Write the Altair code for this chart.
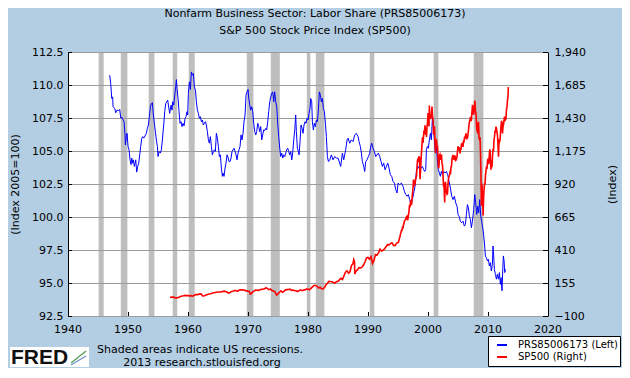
import altair as alt
import pandas as pd

# ---------------- texts ----------------
TITLE_LINES = ["Nonfarm Business Sector: Labor Share (PRS85006173)",
               "S&P 500 Stock Price Index (SP500)"]
LEFT_TITLE = "(Index 2005=100)"
RIGHT_TITLE = "(Index)"
NOTE_1 = "Shaded areas indicate US recessions."
NOTE_2 = "2013 research.stlouisfed.org"
LEGEND_BLUE = "PRS85006173 (Left)"
LEGEND_RED = "SP500 (Right)"
LOGO_TEXT = "FRED"

# ---------------- axes ----------------
x_ticks = [1940, 1950, 1960, 1970, 1980, 1990, 2000, 2010, 2020]
x_tick_labels = ["1940", "1950", "1960", "1970", "1980", "1990", "2000", "2010", "2020"]
left_ticks = [92.5, 95.0, 97.5, 100.0, 102.5, 105.0, 107.5, 110.0, 112.5]
right_ticks = [-100, 155, 410, 665, 920, 1175, 1430, 1685, 1940]

# ---------------- recessions ----------------
rec_start = [1945.1, 1948.8, 1953.45, 1957.45, 1960.12, 1969.8, 1973.8, 1979.8, 1981.3, 1990.3, 2000.95, 2007.62]
rec_end = [1945.95, 1949.9, 1954.4, 1958.2, 1961.12, 1970.9, 1975.3, 1980.4, 1982.73, 1991.06, 2001.73, 2009.23]

# ---------------- labor share (left) ----------------
ls_year = [
 1946.95, 1947.12, 1947.29, 1947.45, 1947.51, 1947.79, 1947.95, 1948.17, 1948.45, 1948.62, 1948.79,
 1949.01, 1949.17, 1949.34, 1949.51, 1949.56, 1949.73, 1949.84, 1950.01, 1950.17, 1950.34, 1950.51,
 1950.62, 1950.79, 1950.90, 1951.06, 1951.29, 1951.45, 1951.62, 1951.79, 1951.95, 1952.12, 1952.29,
 1952.45, 1952.62, 1952.84, 1953.06, 1953.23, 1953.40, 1953.56, 1953.73, 1953.90, 1954.06, 1954.23,
 1954.40, 1954.56, 1954.73, 1954.90, 1955.01, 1955.18, 1955.40, 1955.56, 1955.73, 1955.95, 1956.12,
 1956.29, 1956.45, 1956.62, 1956.73, 1956.95, 1957.18, 1957.34, 1957.45, 1957.62, 1957.79, 1957.95,
 1958.06, 1958.17, 1958.34, 1958.51, 1958.67, 1958.84, 1959.01, 1959.17, 1959.34, 1959.51, 1959.67,
 1959.84, 1959.95, 1960.06, 1960.23, 1960.40, 1960.56, 1960.73, 1960.90, 1961.06, 1961.23, 1961.40,
 1961.56, 1961.73, 1961.90, 1962.06, 1962.23, 1962.40, 1962.56, 1962.73, 1962.90, 1963.06, 1963.23,
 1963.40, 1963.56, 1963.73, 1963.90, 1964.06, 1964.23, 1964.40, 1964.56, 1964.73, 1964.90, 1965.06,
 1965.23, 1965.40, 1965.56, 1965.73, 1965.84, 1966.01, 1966.17, 1966.34, 1966.51, 1966.67, 1966.84,
 1967.01, 1967.17, 1967.34, 1967.51, 1967.67, 1967.84, 1968.01, 1968.17, 1968.34, 1968.51, 1968.67,
 1968.84, 1969.01, 1969.17, 1969.34, 1969.51, 1969.67, 1969.84, 1970.01, 1970.12, 1970.29, 1970.45,
 1970.62, 1970.79, 1970.95, 1971.12, 1971.29, 1971.45, 1971.62, 1971.79, 1971.95, 1972.12, 1972.29,
 1972.45, 1972.62, 1972.79, 1972.95, 1973.12, 1973.29, 1973.45, 1973.62, 1973.79, 1973.95, 1974.12,
 1974.29, 1974.45, 1974.62, 1974.79, 1974.95, 1975.12, 1975.29, 1975.45, 1975.62, 1975.79, 1975.95,
 1976.12, 1976.29, 1976.45, 1976.62, 1976.79, 1976.95, 1977.12, 1977.29, 1977.45, 1977.62, 1977.79,
 1977.95, 1978.06, 1978.23, 1978.40, 1978.51, 1978.67, 1978.84, 1979.01, 1979.17, 1979.34, 1979.50,
 1979.67, 1979.84, 1980.01, 1980.17, 1980.34, 1980.45, 1980.62, 1980.73, 1980.90, 1981.06, 1981.23,
 1981.40, 1981.56, 1981.73, 1981.90, 1982.06, 1982.23, 1982.40, 1982.56, 1982.73, 1982.90, 1983.06,
 1983.23, 1983.40, 1983.62, 1983.90, 1984.17, 1984.45, 1984.73, 1985.01, 1985.28, 1985.45, 1985.73,
 1985.95, 1986.28, 1986.51, 1986.68, 1986.95, 1987.23, 1987.51, 1987.79, 1988.06, 1988.34, 1988.51,
 1988.73, 1988.90, 1989.06, 1989.29, 1989.45, 1989.62, 1989.84, 1990.07, 1990.29, 1990.45, 1990.62,
 1990.84, 1991.06, 1991.29, 1991.51, 1991.73, 1991.95, 1992.18, 1992.40, 1992.62, 1992.84, 1993.07,
 1993.29, 1993.51, 1993.73, 1993.95, 1994.17, 1994.40, 1994.62, 1994.84, 1995.01, 1995.29, 1995.57,
 1995.84, 1996.06, 1996.29, 1996.51, 1996.73, 1996.95, 1997.18, 1997.40, 1997.62, 1997.84, 1997.95,
 1998.06, 1998.23, 1998.40, 1998.62, 1998.84, 1999.07, 1999.29, 1999.45, 1999.62, 1999.73, 1999.90,
 2000.06, 2000.23, 2000.40, 2000.56, 2000.73, 2000.90, 2001.06, 2001.23, 2001.40, 2001.56, 2001.73,
 2001.90, 2002.06, 2002.23, 2002.40, 2002.62, 2002.84, 2003.07, 2003.29, 2003.51, 2003.73, 2003.95,
 2004.17, 2004.40, 2004.62, 2004.84, 2005.01, 2005.18, 2005.40, 2005.62, 2005.84, 2006.06, 2006.23,
 2006.40, 2006.57, 2006.73, 2006.90, 2007.07, 2007.23, 2007.40, 2007.62, 2007.79, 2007.95, 2008.12,
 2008.29, 2008.45, 2008.62, 2008.79, 2008.95, 2009.12, 2009.29, 2009.45, 2009.56, 2009.73, 2009.90,
 2010.06, 2010.23, 2010.40, 2010.56, 2010.73, 2010.84, 2010.95, 2011.06, 2011.23, 2011.40, 2011.56,
 2011.73, 2011.90, 2012.06, 2012.18, 2012.34, 2012.45, 2012.56, 2012.68, 2012.79, 2012.90]
ls_value = [
 110.74, 110.10, 108.98, 109.10, 108.35, 108.23, 107.90, 108.10, 108.05, 108.15, 107.50,
 107.55, 107.35, 107.22, 106.22, 105.46, 106.09, 106.34, 105.34, 105.09, 104.33, 103.96,
 104.46, 104.08, 104.33, 103.83, 104.33, 103.40, 103.83, 104.08, 104.71, 105.34, 105.97,
 106.09, 105.97, 106.14, 106.34, 106.72, 106.97, 107.60, 108.35, 108.60, 108.66, 107.73,
 107.10, 106.47, 105.84, 105.34, 104.58, 104.96, 104.84, 105.09, 105.84, 106.97, 107.98,
 108.60, 108.73, 108.86, 108.48, 107.85, 108.48, 108.10, 108.73, 108.48, 109.23, 109.86,
 110.41, 109.74, 108.98, 107.98, 107.10, 107.22, 106.85, 107.10, 106.90, 107.47, 107.60,
 107.98, 107.73, 109.36, 110.24, 109.66, 110.99, 110.74, 110.87, 109.86, 109.61, 108.73,
 108.10, 107.85, 107.47, 107.60, 107.22, 107.35, 106.97, 107.10, 107.22, 106.97, 106.47,
 105.84, 105.59, 106.09, 105.34, 104.71, 104.96, 105.09, 104.96, 106.34, 105.97, 105.34,
 104.58, 104.71, 103.70, 103.08, 103.33, 103.08, 103.70, 104.08, 104.71, 104.53, 104.20,
 104.20, 104.46, 104.96, 105.09, 105.21, 104.96, 104.71, 104.33, 104.84, 105.09, 105.34,
 106.22, 105.84, 106.34, 107.22, 107.73, 109.23, 109.48, 109.66, 108.98, 108.48, 108.10,
 108.35, 107.98, 107.10, 106.47, 106.22, 106.47, 107.10, 106.85, 106.47, 106.85, 105.84,
 106.22, 106.60, 106.55, 106.72, 106.60, 107.22, 107.98, 108.73, 109.10, 109.36, 109.48,
 108.73, 109.48, 108.73, 108.35, 107.10, 106.09, 105.21, 104.58, 104.84, 104.46, 104.71,
 104.58, 104.84, 105.09, 105.21, 104.96, 104.71, 104.96, 104.33, 104.84, 105.84, 106.60,
 107.73, 106.47, 105.21, 104.96, 104.71, 105.71, 106.97, 106.72, 106.34, 106.97, 107.22,
 107.10, 107.47, 107.35, 107.85, 108.23, 108.98, 108.73, 107.22, 106.60, 107.10, 106.85,
 107.35, 107.22, 108.10, 109.48, 109.23, 108.73, 108.98, 108.23, 107.98, 107.10, 106.09,
 104.58, 104.20, 104.33, 104.71, 104.33, 104.58, 104.46, 104.46, 104.08, 103.83, 104.84,
 104.33, 105.09, 105.84, 105.97, 105.59, 105.84, 105.71, 106.22, 106.34, 106.09, 105.71,
 105.34, 104.84, 104.20, 103.83, 103.45, 104.20, 104.33, 104.58, 104.84, 105.34, 105.59,
 105.21, 104.96, 104.58, 104.71, 104.84, 104.58, 104.20, 103.83, 104.08, 103.58, 103.83,
 104.08, 103.70, 103.20, 103.08, 102.70, 102.57, 102.07, 101.82, 102.57, 102.45, 102.57,
 102.32, 101.95, 101.70, 101.57, 101.70, 101.32, 100.94, 101.32, 101.82, 102.32, 102.82,
 103.45, 103.83, 103.70, 103.96, 103.70, 103.83, 103.58, 103.45, 103.58, 105.09, 105.34,
 105.21, 105.84, 106.34, 105.84, 107.47, 106.85, 105.84, 104.84, 105.34, 104.33, 103.58,
 103.33, 103.08, 103.45, 103.20, 103.45, 103.33, 103.45, 103.20, 102.70, 102.20, 101.57,
 101.32, 101.57, 101.07, 100.82, 100.19, 100.06, 99.68, 99.56, 99.68, 99.31, 99.43,
 100.19, 100.94, 100.69, 100.06, 99.81, 99.18, 99.68, 100.56, 101.70, 101.07, 100.19,
 100.82, 100.31, 101.32, 100.06, 99.68, 99.18, 98.55, 97.80, 97.05, 96.92, 96.67,
 96.80, 96.29, 96.54, 95.91, 96.42, 97.80, 97.05, 96.04, 95.66, 95.29, 95.66,
 95.29, 95.79, 94.90, 95.41, 94.41, 95.91, 97.05, 96.67, 95.79, 96.04]

# ---------------- S&P 500 (right) ----------------
# quarterly readings 1957-1994
sp_q_start = 1957.0
sp_q_value = [
 45.0, 44.1, 47.4, 42.0, 40.3, 42.1, 45.2, 50.0, 55.2, 56.0, 59.0, 57.5,
 58.0, 55.0, 56.9, 53.0, 58.1, 65.0, 65.4, 67.0, 71.0, 69.0, 55.0, 57.0,
 63.0, 66.6, 69.4, 72.0, 75.0, 79.0, 81.0, 84.0, 85.0, 86.0, 85.0, 89.5,
 92.0, 89.0, 85.0, 77.0, 82.0, 90.0, 91.0, 96.0, 96.0, 90.0, 99.0, 102.0,
 103.0, 101.0, 98.0, 94.0, 92.0, 89.0, 72.0, 84.0, 92.0, 100.0, 99.0, 98.0,
 102.0, 107.0, 107.0, 110.0, 118.0, 112.0, 104.0, 108.0, 97.0, 93.0, 86.0, 64.0,
 70.0, 83.0, 95.0, 84.0, 90.0, 102.0, 104.0, 105.0, 107.0, 98.0, 100.0, 96.0,
 95.0, 89.0, 95.0, 102.0, 96.0, 101.0, 102.0, 109.0, 108.0, 102.0, 114.0, 125.0,
 136.0, 136.0, 131.0, 116.0, 122.0, 111.0, 110.0, 120.0, 141.0, 153.0, 168.0, 166.0,
 165.0, 159.0, 153.0, 166.0, 167.0, 181.0, 191.0, 182.0, 211.0, 238.0, 250.0, 231.0,
 242.0, 291.0, 304.0, 321.0, 247.0, 258.0, 273.0, 271.0, 277.0, 294.0, 317.0, 349.0,
 353.0, 339.0, 358.0, 306.0, 330.0, 375.0, 371.0, 387.0, 417.0, 403.0, 408.0, 418.0,
 435.0, 451.0, 450.0, 459.0, 466.0, 445.0, 444.0, 462.0]
# monthly readings 1995-01 .. 2013-04
sp_m_start = 1995.0
sp_m_value = [
 470, 487, 501, 515, 533, 545, 562, 562, 584, 582, 605, 616,
 636, 640, 645, 654, 669, 671, 640, 652, 687, 705, 757, 741,
 786, 791, 757, 801, 848, 885, 954, 899, 947, 915, 955, 970,
 980, 1049, 1102, 1112, 1091, 1134, 1121, 957, 1017, 1099, 1164, 1229,
 1280, 1238, 1286, 1335, 1302, 1373, 1329, 1320, 1283, 1363, 1389, 1469,
 1394, 1366, 1499, 1452, 1421, 1455, 1431, 1518, 1437, 1429, 1315, 1320,
 1366, 1240, 1160, 1249, 1256, 1224, 1211, 1134, 1041, 1060, 1139, 1148,
 1130, 1107, 1147, 1077, 1067, 990, 912, 916, 815, 886, 936, 880,
 856, 841, 848, 917, 964, 975, 990, 1008, 996, 1051, 1058, 1112,
 1131, 1145, 1126, 1107, 1121, 1141, 1102, 1104, 1115, 1130, 1174, 1212,
 1181, 1204, 1181, 1157, 1192, 1191, 1234, 1220, 1229, 1207, 1249, 1248,
 1280, 1281, 1295, 1311, 1270, 1270, 1277, 1304, 1336, 1378, 1401, 1418,
 1438, 1407, 1421, 1482, 1531, 1503, 1455, 1474, 1527, 1549, 1481, 1468,
 1379, 1331, 1323, 1386, 1400, 1280, 1267, 1283, 1166, 969, 896, 903,
 826, 735, 798, 873, 919, 919, 987, 1021, 1057, 1036, 1096, 1115,
 1074, 1104, 1169, 1187, 1089, 1031, 1102, 1049, 1141, 1183, 1181, 1258,
 1286, 1327, 1326, 1364, 1345, 1321, 1292, 1219, 1131, 1253, 1247, 1258,
 1312, 1366, 1408, 1398, 1310, 1362, 1379, 1407, 1441, 1412, 1416, 1426,
 1498, 1515, 1569, 1598]
# daily extremes visible in the picture
sp_x_year = [1962.40, 1970.38, 1974.77, 1987.62, 1987.80, 2000.23, 2002.78, 2007.78, 2008.89, 2009.19, 2013.39]
sp_x_value = [56.0, 69.0, 62.0, 336.0, 225.0, 1527.0, 777.0, 1565.0, 752.0, 677.0, 1669.0]

# ---------------- frames ----------------
ls_df = pd.DataFrame({"year": ls_year, "value": ls_value})
sp_year = ([sp_q_start + i / 4 for i in range(len(sp_q_value))]
           + [sp_m_start + (i + 1) / 12 for i in range(len(sp_m_value))]
           + sp_x_year)
sp_df = pd.DataFrame({"year": sp_year, "value": sp_q_value + sp_m_value + sp_x_value})
sp_df = sp_df.sort_values("year")
rec_df = pd.DataFrame({"start": rec_start, "end": rec_end})
xt_df = pd.DataFrame({"tick": x_ticks, "label": x_tick_labels})
lt_df = pd.DataFrame({"lv": left_ticks})
gr_df = pd.DataFrame({"gv": left_ticks})
rt_df = pd.DataFrame({"rv": right_ticks})

W, H = 480, 264
FONT = "DejaVu Sans"
GRID = "#9C9C9C"
xs = alt.Scale(domain=[1940, 2020], nice=False, zero=False)
ys_left = alt.Scale(domain=[92.5, 112.5], nice=False, zero=False)
ys_right = alt.Scale(domain=[-100, 1940], nice=False, zero=False)

one = pd.DataFrame({"t": [""]})


def txt(s):
    return pd.DataFrame({"t": [s]})


rec = alt.Chart(rec_df).mark_rect(color="#BEBEBE").encode(
    x=alt.X("start:Q", scale=xs, axis=None),
    x2="end:Q", y=alt.value(0), y2=alt.value(H))

# horizontal grid lines at the left-axis ticks, across the whole plot
grid = alt.Chart(gr_df).mark_rule(color=GRID, strokeWidth=1, yOffset=0.5).encode(
    y=alt.Y("gv:Q", scale=ys_left, axis=None), x=alt.value(0), x2=alt.value(W))

blue = alt.Chart(ls_df).mark_line(color="#0000FF", strokeWidth=1).encode(
    x=alt.X("year:Q", scale=xs, axis=None),
    y=alt.Y("value:Q", scale=ys_left,
            axis=alt.Axis(orient="left", values=left_ticks, format=".1f", ticks=False,
                          grid=True, gridColor=GRID, gridOpacity=1, gridWidth=1,
                          zindex=0, domainColor="black", labelPadding=5,
                          title=LEFT_TITLE, titleX=-48, titleY=H / 2)))

red = alt.Chart(sp_df).mark_line(color="#FF0000", strokeWidth=1.6).encode(
    x=alt.X("year:Q", scale=xs, axis=None),
    y=alt.Y("value:Q", scale=ys_right,
            axis=alt.Axis(orient="right", values=right_ticks, format=",.0f", ticks=False, grid=False,
                          zindex=1, domainColor="black", labelPadding=6, title=RIGHT_TITLE,
                          titleX=69, titleY=H / 2, titleAngle=270)))

# x tick marks (inward); the axis only supplies its domain line
xt = alt.Chart(xt_df).mark_rule(color="black", xOffset=0.5).encode(
    x=alt.X("tick:Q", scale=xs,
            axis=alt.Axis(values=x_ticks, labels=False, ticks=False, grid=False, zindex=1,
                          domainColor="black", title=None)),
    y=alt.value(H - 4), y2=alt.value(H))
# x tick labels
xl = alt.Chart(xt_df).mark_text(align="center", baseline="middle", font=FONT, fontSize=11, color="black").encode(
    x=alt.X("tick:Q", scale=xs, axis=None), y=alt.value(H + 14), text="label:N")
lt = alt.Chart(lt_df).mark_rule(color="black", yOffset=0.5).encode(
    y=alt.Y("lv:Q", scale=ys_left, axis=None), x=alt.value(0), x2=alt.value(4))
rt = alt.Chart(rt_df).mark_rule(color="black", yOffset=0.5).encode(
    y=alt.Y("rv:Q", scale=ys_right, axis=None), x=alt.value(W - 5), x2=alt.value(W))

note1 = alt.Chart(txt(NOTE_1)).mark_text(align="left", baseline="middle", font=FONT, fontSize=11, color="black").encode(
    text="t:N", x=alt.value(29), y=alt.value(298))
note2 = alt.Chart(txt(NOTE_2)).mark_text(align="center", baseline="middle", font=FONT, fontSize=11, color="black").encode(
    text="t:N", x=alt.value(134), y=alt.value(311))

leg_box = alt.Chart(one).mark_rect(fill="white", stroke="black", strokeWidth=1).encode(
    x=alt.value(420.5), x2=alt.value(552.5), y=alt.value(284.5), y2=alt.value(314.5))
leg_b = alt.Chart(one).mark_rule(color="#0000FF", strokeWidth=2).encode(
    x=alt.value(429), x2=alt.value(439), y=alt.value(293), y2=alt.value(293))
leg_r = alt.Chart(one).mark_rule(color="#FF0000", strokeWidth=2).encode(
    x=alt.value(429), x2=alt.value(439), y=alt.value(305), y2=alt.value(305))
leg_bt = alt.Chart(txt(LEGEND_BLUE)).mark_text(align="left", baseline="middle", font=FONT, fontSize=10, color="black").encode(
    text="t:N", x=alt.value(450), y=alt.value(293))
leg_rt = alt.Chart(txt(LEGEND_RED)).mark_text(align="left", baseline="middle", font=FONT, fontSize=10, color="black").encode(
    text="t:N", x=alt.value(450), y=alt.value(305))

logo_box = alt.Chart(one).mark_rect(fill="white").encode(
    x=alt.value(-58), x2=alt.value(21), y=alt.value(295), y2=alt.value(315))
logo_txt = alt.Chart(txt(LOGO_TEXT)).mark_text(align="left", baseline="middle", font="Liberation Sans",
                                                fontSize=21, fontWeight="bold", color="#111111").encode(
    text="t:N", x=alt.value(-57), y=alt.value(306))
logo_g = alt.Chart(one).mark_rule(color="#5aa05a", strokeWidth=1.5).encode(
    x=alt.value(3), x2=alt.value(18), y=alt.value(311), y2=alt.value(299))
logo_b = alt.Chart(one).mark_rule(color="#6a8fc8", strokeWidth=1.2).encode(
    x=alt.value(3), x2=alt.value(18), y=alt.value(313), y2=alt.value(304))

chart = alt.layer(
    rec, grid, blue, red, xt, xl, lt, rt, note1, note2, leg_box, leg_b, leg_r,
    leg_bt, leg_rt, logo_box, logo_txt, logo_g, logo_b
).resolve_scale(y="independent").properties(
    width=W, height=H,
    title=alt.TitleParams(text=TITLE_LINES, anchor="middle", frame="group", dx=7, font=FONT,
                          fontSize=11, fontWeight="normal", color="black", offset=10, lineHeight=17),
    padding={"left": 60, "top": 44, "right": 74, "bottom": 52},
    autosize=alt.AutoSizeParams(type="none"),
).configure(background="#B3CDE3", font=FONT).configure_view(
    fill="white", stroke="transparent"
).configure_axis(
    labelFont=FONT, labelFontSize=11, labelColor="black",
    titleFont=FONT, titleFontSize=11, titleFontWeight="normal", titleColor="black",
)

chart.save("out.html", embed_options={"renderer": "svg", "actions": False})
